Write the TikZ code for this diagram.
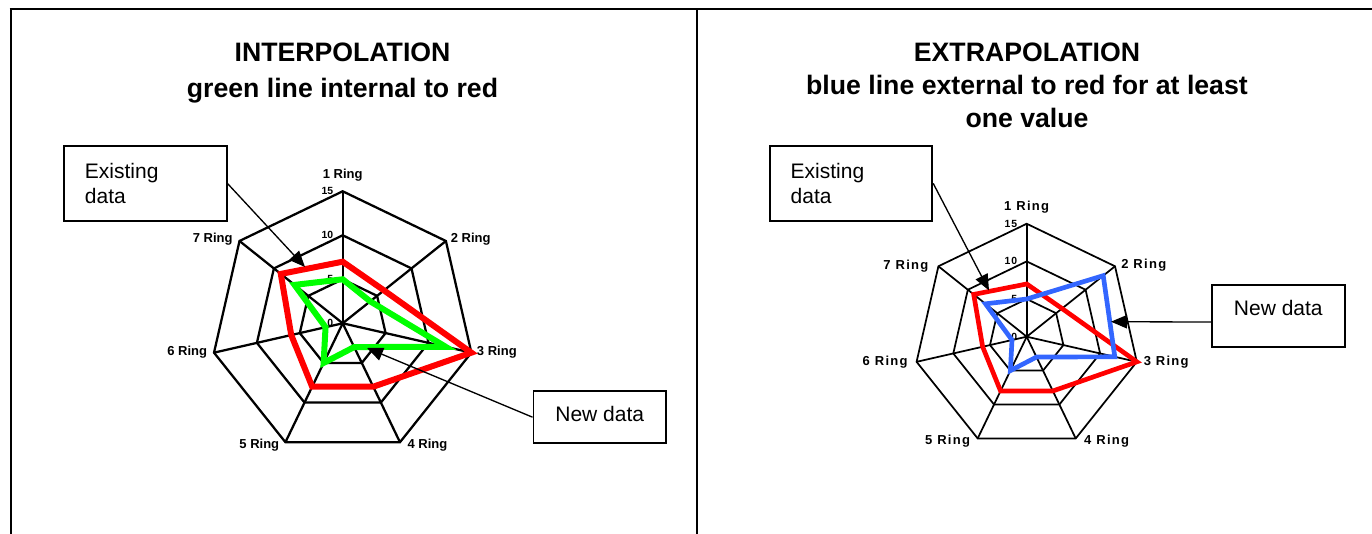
\documentclass[tikz,border=0pt]{standalone}
\usepackage{fontspec}
\setmainfont{Liberation Sans}
\newfontfamily\widesans[LetterSpace=10]{Liberation Sans}
\usetikzlibrary{arrows.meta}

\definecolor{olddata}{RGB}{255,0,0}
\definecolor{newin}{RGB}{0,255,0}
\definecolor{newout}{RGB}{51,102,255}

\tikzset{
  panelline/.style={line width=1.5pt},
  webline/.style={line width=#1},
  dataline/.style={line width=#1, line join=miter},
  heading/.style={font=\bfseries\fontsize{20pt}{24.75pt}\selectfont, align=center},
  ringlabel/.style={font=\bfseries\fontsize{9.75pt}{11pt}\selectfont, inner sep=0pt},
  scalelabel/.style={font=\bfseries\fontsize{7.8pt}{9pt}\selectfont, inner sep=0pt, anchor=east},
  notebox/.style={draw, line width=1.3pt, font=\fontsize{15.75pt}{18.75pt}\selectfont},
  pointer/.style={line width=1pt, -{Triangle[length=12pt,width=10pt]}}
}

\begin{document}
\begin{tikzpicture}[x=0.75pt,y=0.75pt]
  \useasboundingbox (0,0) rectangle (1372,534);

  % panel frame
  \draw[panelline] (9.5,525.3) -- (1372,525.3);
  \draw[panelline] (11,525.3) -- (11,0);
  \draw[panelline] (696.7,525.3) -- (696.7,0);

  % headings
  \node[heading, font=\bfseries\fontsize{20pt}{27pt}\selectfont] (titleL) at (342.5,461)
    {INTERPOLATION\\green line internal to red};
  \node[heading] (titleR) at (1027,449)
    {EXTRAPOLATION\\blue line external to red for at least\\one value};

  % left radar: existing vs. interpolated
  \begin{scope}[shift={(342.7,210.7)}, scale=8.8]
    \foreach \r in {5,10,15}
      \draw[webline=1.7pt] (90:\r) \foreach \k in {1,...,6} { -- ({90-\k*360/7}:\r) } -- cycle;
    \foreach \k in {0,...,6}
      \draw[webline=1.7pt] (0,0) -- ({90-\k*360/7}:15);
    \foreach \r in {0,5,10,15}
      \node[scalelabel, xshift=-7pt] (sL-\r) at (90:\r) {\r};
    \foreach \k/\anc/\dx/\dy in {1/south/0/7, 2/west/3.5/1.7, 3/west/4/0, 4/west/5.5/-2.5,
                                5/east/-4.5/-2.5, 6/east/-5/0, 7/east/-5/1.7}
      \node[ringlabel, anchor=\anc, xshift=\dx pt, yshift=\dy pt] (rL-\k)
        at ({90-(\k-1)*360/7}:15) {\k{} Ring};
    \foreach \v [count=\k] in {7,6,15,8,8,6,9}
      \coordinate (oldL-\k) at ({90-(\k-1)*360/7}:\v);
    \foreach \v [count=\k] in {5,4,12,3,5,2,7}
      \coordinate (newL-\k) at ({90-(\k-1)*360/7}:\v);
    \draw[dataline=4.5pt, olddata] (oldL-1) \foreach \k in {2,...,7} { -- (oldL-\k) } -- cycle;
    \draw[dataline=4.5pt, newin] (newL-1) \foreach \k in {2,...,7} { -- (newL-\k) } -- cycle;
  \end{scope}

  % right radar: existing vs. extrapolated
  \begin{scope}[shift={(1026.7,197.3)}, scale=7.53]
    \foreach \r in {5,10,15}
      \draw[webline=1.3pt] (90:\r) \foreach \k in {1,...,6} { -- ({90-\k*360/7}:\r) } -- cycle;
    \foreach \k in {0,...,6}
      \draw[webline=1.3pt] (0,0) -- ({90-\k*360/7}:15);
    \foreach \r in {0,5,10,15}
      \node[scalelabel, xshift=-7pt, font=\widesans\bfseries\fontsize{7.8pt}{9pt}\selectfont] (sR-\r)
        at (90:\r) {\r};
    \foreach \k/\anc/\dx/\dy in {1/south/0/7.7, 2/west/4.5/0.5, 3/west/5/-0.5, 4/west/6.2/-2.2,
                                5/east/-5.5/-2.2, 6/east/-6.5/0, 7/east/-7.3/0}
      \node[ringlabel, font=\widesans\bfseries\fontsize{9.75pt}{11pt}\selectfont,
            anchor=\anc, xshift=\dx pt, yshift=\dy pt] (rR-\k)
        at ({90-(\k-1)*360/7}:15) {\k{} Ring};
    \foreach \v [count=\k] in {7,6,15,8,8,6,9}
      \coordinate (oldR-\k) at ({90-(\k-1)*360/7}:\v);
    \foreach \v [count=\k] in {5,13,12,3,5,2,7}
      \coordinate (newR-\k) at ({90-(\k-1)*360/7}:\v);
    \draw[dataline=3.5pt, olddata] (oldR-1) \foreach \k in {2,...,7} { -- (oldR-\k) } -- cycle;
    \draw[dataline=3.5pt, newout] (newR-1) \foreach \k in {2,...,7} { -- (newR-\k) } -- cycle;
  \end{scope}

  % call-out boxes
  \node[notebox, minimum width=122pt, minimum height=56.25pt, text width=90.5pt,
        inner xsep=15.75pt, align=left] (exist1) at (145.3,350.5) {Existing\\data};
  \node[notebox, minimum width=99.5pt, inner sep=0pt, text height=22.5pt, text depth=16.75pt]
    (new1) at (599.7,116.8) {New data};
  \node[notebox, minimum width=121.5pt, minimum height=56pt, text width=90.5pt,
        inner xsep=15.75pt, align=left] (exist2) at (851,350.6) {Existing\\data};
  \node[notebox, minimum width=100pt, inner sep=0pt, text height=22.5pt, text depth=24.2pt]
    (new2) at (1278.3,217.8) {New data};

  % pointers
  \coordinate (tipL1) at (305,267);
  \coordinate (tipL2) at (367,186);
  \coordinate (tipR1) at (989,243.5);
  \coordinate (tipR2) at (1111,212.3);
  \draw[pointer] (exist1.east) -- (tipL1);
  \draw[pointer] (new1.west) -- (tipL2);
  \draw[pointer] (exist2.east) -- (tipR1);
  \draw[pointer] ([yshift=-4.4pt]new2.west) -- (tipR2);
\end{tikzpicture}
\end{document}
